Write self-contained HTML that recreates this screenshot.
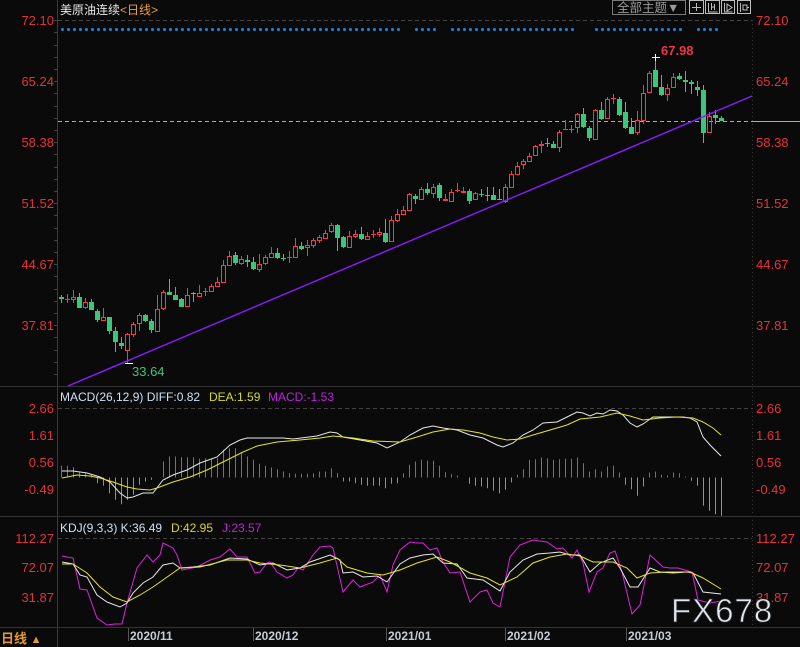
<!DOCTYPE html>
<html><head><meta charset="utf-8">
<style>
html,body{margin:0;padding:0;background:#0a0a0a;}
svg{display:block;font-family:"Liberation Sans","Noto Sans CJK SC",sans-serif;}
</style></head>
<body>
<svg width="800" height="647" viewBox="0 0 800 647" xmlns="http://www.w3.org/2000/svg">
<rect width="800" height="647" fill="#0a0a0a"/>
<!-- frame lines -->
<line x1="57.5" y1="0" x2="57.5" y2="647" stroke="#3a3a3a"/>
<line x1="752.5" y1="20" x2="752.5" y2="627" stroke="#3a3a3a" stroke-dasharray="1,3"/>
<line x1="0" y1="386.5" x2="800" y2="386.5" stroke="#333"/>
<line x1="0" y1="516.5" x2="800" y2="516.5" stroke="#333"/>
<line x1="0" y1="627.5" x2="800" y2="627.5" stroke="#333"/>
<path stroke="#444" d="M54 20.5h3M54 32.5h3M54 45.5h3M54 57.5h3M54 69.5h3M54 81.5h3M54 93.5h3M54 106.5h3M54 118.5h3M54 130.5h3M54 142.5h3M54 154.5h3M54 167.5h3M54 179.5h3M54 191.5h3M54 203.5h3M54 215.5h3M54 228.5h3M54 240.5h3M54 252.5h3M54 264.5h3M54 276.5h3M54 289.5h3M54 301.5h3M54 313.5h3M54 325.5h3M54 337.5h3M54 350.5h3M54 362.5h3M54 374.5h3"/>
<!-- grid dashed -->
<line x1="58" y1="20.5" x2="752" y2="20.5" stroke="#444" stroke-dasharray="4,3"/>
<line x1="58" y1="408.5" x2="752" y2="408.5" stroke="#444" stroke-dasharray="4,3"/>
<line x1="58" y1="538.5" x2="752" y2="538.5" stroke="#444" stroke-dasharray="4,3"/>
<!-- current price line -->
<line x1="58" y1="121.5" x2="752" y2="121.5" stroke="#e8a040" stroke-dasharray="4,3"/>
<line x1="752" y1="121.5" x2="800" y2="121.5" stroke="#e8a040"/>
<!-- blue dots -->
<path fill="none" stroke="#1e86d6" stroke-width="3" stroke-linecap="round" stroke-dasharray="0 6" d="M62.5 29.5H404.5M416.5 29.5H440.5M452.5 29.5H578.5M596.5 29.5H686.5M698.5 29.5H722.5"/>

<!-- green candles -->
<path fill="none" stroke="#3cc67c" d="M61.5 295V303M79.5 293V308M91.5 299V310M97.5 309V322M109.5 317V334M115.5 327V352M121.5 337V349M145.5 314V322M151.5 319V333M169.5 279V295M175.5 287V300M181.5 298V307M193.5 292V302M235.5 252V265M247.5 255V267M253.5 257V270M277.5 248V259M283.5 254V261M301.5 242V250M337.5 224V251M343.5 236V248M361.5 227V240M385.5 219V243M415.5 194V204M427.5 183V195M439.5 183V201M469.5 189V204M481.5 189V197M487.5 187V201M493.5 187V200M499.5 189V200M547.5 138V147M553.5 141V148M583.5 108V128M589.5 126V141M601.5 102V120M619.5 97V116M625.5 102V129M631.5 118V134M655.5 55V87M661.5 75V96M679.5 73V80M685.5 71V92M691.5 80V94M697.5 81V96M703.5 85V143M715.5 110V124M721.5 116V121M281 258.5h5M479 194.5h5M485 195.5h5M497 199.5h5M545 143.5h5"/>
<path fill="#3cc67c" d="M59 297h5v2h-5zM77 297h5v11h-5zM89 302h5v8h-5zM95 311h5v9h-5zM107 317h5v14h-5zM113 331h5v11h-5zM119 343h5v3h-5zM143 315h5v6h-5zM149 321h5v9h-5zM167 292h5v3h-5zM173 295h5v5h-5zM179 299h5v8h-5zM191 293h5v1h-5zM233 255h5v8h-5zM245 260h5v2h-5zM251 262h5v7h-5zM275 253h5v5h-5zM299 246h5v3h-5zM335 225h5v13h-5zM341 237h5v10h-5zM359 234h5v5h-5zM383 233h5v9h-5zM413 196h5v3h-5zM425 189h5v4h-5zM437 185h5v13h-5zM467 191h5v10h-5zM491 195h5v5h-5zM551 144h5v4h-5zM581 114h5v13h-5zM587 128h5v10h-5zM599 110h5v9h-5zM617 99h5v16h-5zM623 112h5v16h-5zM629 127h5v7h-5zM653 70h5v17h-5zM659 87h5v8h-5zM677 76h5v3h-5zM683 80h5v2h-5zM689 82h5v2h-5zM695 87h5v3h-5zM701 90h5v43h-5zM713 115h5v3h-5zM719 118h5v3h-5z"/>
<!-- red candles -->
<path fill="none" stroke="#ff3450" d="M67.5 294V303M73.5 290V297M73.5 300V303M85.5 298V302M85.5 308V309M103.5 308V317M127.5 333V334M127.5 351V363M133.5 322V324M133.5 335V337M139.5 313V315M139.5 324V331M157.5 295V309M163.5 290V292M163.5 309V310M187.5 288V295M199.5 285V293M205.5 288V296M211.5 284V286M217.5 277V282M223.5 260V265M229.5 251V256M241.5 256V259M241.5 264V265M259.5 254V264M259.5 270V272M265.5 255V257M265.5 264V265M271.5 247V253M289.5 251V263M295.5 238V246M307.5 240V245M307.5 248V256M313.5 238V240M313.5 246V248M319.5 235V237M319.5 241V243M325.5 230V233M331.5 223V225M331.5 232V233M349.5 231V236M355.5 230V234M355.5 237V238M367.5 232V236M373.5 230V238M379.5 228V232M379.5 235V237M391.5 216V220M397.5 209V214M397.5 221V222M403.5 206V210M409.5 193V194M421.5 187V189M433.5 184V187M433.5 194V198M445.5 194V199M451.5 189V192M457.5 183V192M463.5 187V191M475.5 192V193M505.5 184V187M505.5 202V203M511.5 171V174M517.5 162V166M523.5 159V161M523.5 165V169M529.5 153V156M535.5 145V146M541.5 141V144M541.5 146V153M559.5 130V132M559.5 148V152M565.5 120V130M571.5 125V133M577.5 113V114M577.5 128V133M595.5 109V110M607.5 97V99M613.5 94V104M637.5 111V120M637.5 133V135M643.5 85V93M643.5 121V124M649.5 71V73M667.5 84V88M667.5 95V101M673.5 73V77M709.5 112V116M65 299.5h5M203 291.5h5M287 257.5h5M371 234.5h5M455 190.5h5M563 129.5h5M569 129.5h5M611 98.5h5M71.5 297.5h4v2h-4zM83.5 302.5h4v5h-4zM101.5 317.5h4v3h-4zM125.5 334.5h4v16h-4zM131.5 324.5h4v10h-4zM137.5 315.5h4v8h-4zM155.5 309.5h4v22h-4zM161.5 292.5h4v16h-4zM185.5 295.5h4v11h-4zM197.5 293.5h4v3h-4zM209.5 286.5h4v5h-4zM215.5 282.5h4v4h-4zM221.5 265.5h4v17h-4zM227.5 256.5h4v9h-4zM239.5 259.5h4v4h-4zM257.5 264.5h4v5h-4zM263.5 257.5h4v6h-4zM269.5 253.5h4v4h-4zM293.5 246.5h4v11h-4zM305.5 245.5h4v2h-4zM311.5 240.5h4v5h-4zM317.5 237.5h4v3h-4zM323.5 233.5h4v5h-4zM329.5 225.5h4v6h-4zM347.5 236.5h4v11h-4zM353.5 234.5h4v2h-4zM365.5 236.5h4v3h-4zM377.5 232.5h4v2h-4zM389.5 220.5h4v21h-4zM395.5 214.5h4v6h-4zM401.5 210.5h4v4h-4zM407.5 194.5h4v16h-4zM419.5 189.5h4v10h-4zM431.5 187.5h4v6h-4zM443.5 199.5h4v1h-4zM449.5 192.5h4v9h-4zM461.5 191.5h4v1h-4zM473.5 193.5h4v6h-4zM503.5 187.5h4v14h-4zM509.5 174.5h4v13h-4zM515.5 166.5h4v8h-4zM521.5 161.5h4v3h-4zM527.5 156.5h4v5h-4zM533.5 146.5h4v9h-4zM539.5 144.5h4v1h-4zM557.5 132.5h4v15h-4zM575.5 114.5h4v13h-4zM593.5 110.5h4v29h-4zM605.5 99.5h4v19h-4zM635.5 120.5h4v12h-4zM641.5 93.5h4v27h-4zM647.5 73.5h4v19h-4zM665.5 88.5h4v6h-4zM671.5 77.5h4v10h-4zM707.5 116.5h4v16h-4z"/>

<!-- MACD histogram -->
<path fill="none" stroke="#e8404e" d="M61.5 477.5V465.8M67.5 477.5V465.8M73.5 477.5V467.2M79.5 477.5V471.5M85.5 477.5V472.5M91.5 477.5V474.8M163.5 477.5V461.5M169.5 477.5V456.5M175.5 477.5V456.5M181.5 477.5V457.2M187.5 477.5V457.2M193.5 477.5V457.2M199.5 477.5V458.8M205.5 477.5V458.2M211.5 477.5V458.8M217.5 477.5V458.2M223.5 477.5V449.8M229.5 477.5V448.2M235.5 477.5V448.2M241.5 477.5V453.2M247.5 477.5V456.5M253.5 477.5V459.8M259.5 477.5V463.8M265.5 477.5V465.8M271.5 477.5V467.5M277.5 477.5V469.2M283.5 477.5V471.5M289.5 477.5V473.2M295.5 477.5V473.8M301.5 477.5V473.8M307.5 477.5V473.8M313.5 477.5V473.2M319.5 477.5V471.5M325.5 477.5V471.5M331.5 477.5V468.2M337.5 477.5V473.2M403.5 477.5V473.2M409.5 477.5V464.8M415.5 477.5V461.5M421.5 477.5V459.8M427.5 477.5V460.5M433.5 477.5V460.8M439.5 477.5V465.8M445.5 477.5V472.2M451.5 477.5V474.2M457.5 477.5V475.5M517.5 477.5V474.8M523.5 477.5V469.2M529.5 477.5V459.8M535.5 477.5V459.2M541.5 477.5V457.5M547.5 477.5V458.2M553.5 477.5V459.8M559.5 477.5V459.2M565.5 477.5V458.8M571.5 477.5V458.8M577.5 477.5V457.5M583.5 477.5V463.2M589.5 477.5V471.5M595.5 477.5V469.2M601.5 477.5V471.5M607.5 477.5V466.5M613.5 477.5V465.8M619.5 477.5V472.5M649.5 477.5V472.5M655.5 477.5V471.5M661.5 477.5V474.8M667.5 477.5V475.5M673.5 477.5V472.5M679.5 477.5V473.2M685.5 477.5V476.5"/>
<path fill="none" stroke="#3cc07c" d="M97.5 477.5V483.2M103.5 477.5V485.8M109.5 477.5V493.2M115.5 477.5V499.8M121.5 477.5V504.2M127.5 477.5V499.8M133.5 477.5V494.8M139.5 477.5V484.8M145.5 477.5V481.5M151.5 477.5V479.8M343.5 477.5V481.5M349.5 477.5V481.5M355.5 477.5V483.2M361.5 477.5V484.8M367.5 477.5V485.8M373.5 477.5V485.8M379.5 477.5V485.8M385.5 477.5V488.2M391.5 477.5V483.8M397.5 477.5V483.2M469.5 477.5V483.8M475.5 477.5V485.8M481.5 477.5V486.5M487.5 477.5V488.2M493.5 477.5V490.8M499.5 477.5V493.2M505.5 477.5V489.8M511.5 477.5V482.5M625.5 477.5V484.8M631.5 477.5V489.2M637.5 477.5V495.8M643.5 477.5V486.5M691.5 477.5V480.8M697.5 477.5V485.8M703.5 477.5V505.8M709.5 477.5V510.8M715.5 477.5V514.2M721.5 477.5V515.8"/>

<!-- trendline -->
<line x1="68" y1="386" x2="752" y2="96" stroke="#8a1cff" stroke-width="1.4"/>
<!-- MACD lines -->
<polyline fill="none" stroke="#e8e8e8" stroke-width="1" points="62,471 73,471 87,473 100,477 110,482 120,493 127,498 133,497 143,493 153,493 163,480 173,475 187,470 200,463 217,457 230,445 240,440 247,438 267,438 283,438 293,439 317,436 330,432 337,433 343,437 360,440 377,443 387,448 400,442 410,435 423,428 433,426 443,428 457,430 470,435 483,438 497,445 503,447 513,443 523,435 533,430 543,423 557,422 567,417 577,412 583,413 590,416 597,413 603,414 610,410 617,411 623,415 630,423 637,427 643,424 653,417 663,417 673,417 683,417 690,418 697,422 703,437 710,445 721,456"/>
<polyline fill="none" stroke="#e6e61e" stroke-width="1" points="62,478 77,475 90,476 100,478 113,482 127,487 137,489 150,490 157,488 173,482 190,477 207,470 227,460 243,452 257,446 277,442 300,440 320,438 333,436 353,438 373,441 400,442 417,437 433,432 450,429 463,430 480,433 493,437 507,440 520,439 533,435 550,430 567,425 580,419 600,417 617,413 630,416 643,420 660,418 677,417 693,418 703,422 713,428 721,435"/>
<!-- KDJ lines -->
<polyline fill="none" stroke="#e020e0" stroke-width="1" points="62,556 73,558 80,589 87,590 97,618 107,625 115,624 122,624 127,603 137,568 147,555 153,562 160,555 163,543 173,548 177,555 182,570 197,567 210,560 220,557 230,549 237,557 247,557 255,573 260,572 267,563 270,562 277,572 287,578 293,575 298,568 303,570 313,555 320,547 330,546 333,548 343,592 353,580 360,587 373,582 380,575 387,592 393,565 400,550 410,542 417,543 423,543 430,550 437,548 443,562 450,573 460,572 470,602 480,592 487,590 493,603 500,607 510,557 520,545 533,540 547,542 557,549 563,548 572,558 577,550 583,563 589,592 597,572 603,568 610,553 615,551 622,572 632,614 640,605 650,555 663,567 670,568 678,568 692,572 698,600 710,603 721,601"/>
<polyline fill="none" stroke="#e8e8e8" stroke-width="1" points="62,562 73,564 80,575 87,577 97,595 107,602 120,607 127,603 133,593 143,583 153,577 163,565 173,563 180,568 193,567 210,565 230,558 247,559 260,565 273,563 287,570 300,568 310,562 330,555 340,560 343,573 353,572 363,577 377,576 387,582 400,564 410,558 423,555 433,554 443,563 457,564 467,578 483,580 500,591 510,572 523,560 537,554 550,553 560,552 570,555 580,555 590,572 600,563 613,558 620,568 630,587 638,587 650,568 660,572 673,573 687,572 693,573 703,592 721,594"/>
<polyline fill="none" stroke="#e6e61e" stroke-width="1" points="62,564 73,564 87,573 100,587 113,597 127,602 140,595 153,587 170,575 180,568 200,567 227,560 247,560 260,563 280,565 300,568 320,563 337,558 347,567 367,573 383,575 400,570 417,563 437,557 450,562 470,573 487,578 500,585 517,577 533,563 550,557 567,554 580,556 593,562 613,562 627,568 637,578 650,573 667,572 690,572 703,578 721,589"/>

<!-- markers -->
<line x1="125" y1="363.5" x2="133" y2="363.5" stroke="#fff"/>
<line x1="652" y1="57.5" x2="660" y2="57.5" stroke="#fff"/>
<line x1="655.5" y1="54" x2="655.5" y2="61" stroke="#fff"/>
<text x="661" y="55" font-size="13" fill="#f03448" font-weight="bold">67.98</text>
<text x="132" y="376" font-size="13" fill="#3cc67c">33.64</text>

<!-- Title -->
<text x="60" y="14" font-size="12" fill="#e8e8e8">美原油连续<tspan fill="#e8a33a">&lt;日线&gt;</tspan></text>

<!-- top-right controls -->
<rect x="612.5" y="0.5" width="73" height="14" fill="none" stroke="#7a7a7a"/>
<text x="617" y="12" font-size="12.5" fill="#9a9a9a">全部主题▼</text>
<g fill="none" stroke="#bdbdbd">
<rect x="689.5" y="0.5" width="14" height="13"/>
<rect x="705.5" y="0.5" width="14" height="13"/>
<rect x="721.5" y="0.5" width="13" height="13"/>
<rect x="737.5" y="0.5" width="13" height="13"/>
<path d="M696.5 3v8M692 7.5h9"/>
<path d="M708.5 3v9h9M711.5 3v7M714.5 4v6M711.5 7h3"/>
<path d="M724.5 3v9h8M727 4l5 3.5-5 3.5z"/>
<path d="M740.5 3v9M743 5h4v5h-4zM747 7.5h2"/>
</g>

<!-- axis labels -->
<g font-size="13" fill="#e8303c">
<text x="54" y="25" text-anchor="end">72.10</text>
<text x="54" y="86" text-anchor="end">65.24</text>
<text x="54" y="147" text-anchor="end">58.38</text>
<text x="54" y="208" text-anchor="end">51.52</text>
<text x="54" y="269" text-anchor="end">44.67</text>
<text x="54" y="330" text-anchor="end">37.81</text>
<text x="756" y="25">72.10</text>
<text x="756" y="86">65.24</text>
<text x="756" y="147">58.38</text>
<text x="756" y="208">51.52</text>
<text x="756" y="269">44.67</text>
<text x="756" y="330">37.81</text>
<text x="54" y="413" text-anchor="end">2.66</text>
<text x="54" y="440" text-anchor="end">1.61</text>
<text x="54" y="467" text-anchor="end">0.56</text>
<text x="54" y="494" text-anchor="end">-0.49</text>
<text x="756" y="413">2.66</text>
<text x="756" y="440">1.61</text>
<text x="756" y="467">0.56</text>
<text x="756" y="494">-0.49</text>
<text x="54" y="543" text-anchor="end">112.27</text>
<text x="54" y="572" text-anchor="end">72.07</text>
<text x="54" y="602" text-anchor="end">31.87</text>
<text x="756" y="543">112.27</text>
<text x="756" y="572">72.07</text>
<text x="756" y="602">31.87</text>
</g>

<!-- indicator titles -->
<text x="60" y="401" font-size="12" fill="#cfe0f2">MACD(26,12,9) DIFF:0.82 <tspan x="209" fill="#d8d820">DEA:1.59</tspan><tspan x="268" fill="#c020e0">MACD:-1.53</tspan></text>
<text x="60" y="532" font-size="12" fill="#cfe0f2">KDJ(9,3,3) K:36.49 <tspan x="171" fill="#d8d820">D:42.95</tspan><tspan x="222" fill="#c020e0">J:23.57</tspan></text>

<!-- date axis -->
<g stroke="#555">
<line x1="128.5" y1="628" x2="128.5" y2="641"/>
<line x1="253.5" y1="628" x2="253.5" y2="641"/>
<line x1="386.5" y1="628" x2="386.5" y2="641"/>
<line x1="505.5" y1="628" x2="505.5" y2="641"/>
<line x1="626.5" y1="628" x2="626.5" y2="641"/>
</g>
<g font-size="12" font-weight="bold" fill="#c4ccd6">
<text x="130" y="640">2020/11</text>
<text x="255" y="640">2020/12</text>
<text x="388" y="640">2021/01</text>
<text x="507" y="640">2021/02</text>
<text x="628" y="640">2021/03</text>
</g>
<text x="1" y="643" font-size="13" font-weight="bold" fill="#e89a30">日线 <tspan font-size="11">▲</tspan></text>

<!-- watermark -->
<text x="671" y="622" font-size="33" fill="#e2e8f0" stroke="#2a2a2a" stroke-width="0.8" letter-spacing="1">FX678</text>
</svg>
</body></html>
